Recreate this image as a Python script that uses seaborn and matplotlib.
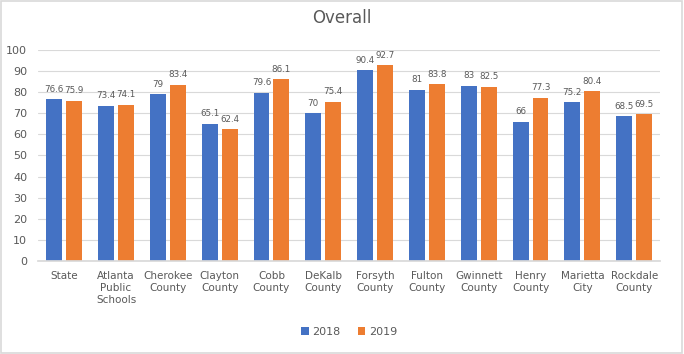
import matplotlib
matplotlib.use("Agg")
import matplotlib.pyplot as plt
import seaborn as sns
import pandas as pd
from matplotlib.patches import Rectangle

categories = ["State", "Atlanta\nPublic\nSchools", "Cherokee\nCounty", "Clayton\nCounty",
              "Cobb\nCounty", "DeKalb\nCounty", "Forsyth\nCounty", "Fulton\nCounty",
              "Gwinnett\nCounty", "Henry\nCounty", "Marietta\nCity", "Rockdale\nCounty"]
values_2018 = [76.6, 73.4, 79, 65.1, 79.6, 70, 90.4, 81, 83, 66, 75.2, 68.5]
values_2019 = [75.9, 74.1, 83.4, 62.4, 86.1, 75.4, 92.7, 83.8, 82.5, 77.3, 80.4, 69.5]
labels_2018 = ["76.6", "73.4", "79", "65.1", "79.6", "70", "90.4", "81", "83", "66", "75.2", "68.5"]
labels_2019 = ["75.9", "74.1", "83.4", "62.4", "86.1", "75.4", "92.7", "83.8", "82.5", "77.3", "80.4", "69.5"]
years = ["2018", "2019"]
yticks = [0, 10, 20, 30, 40, 50, 60, 70, 80, 90, 100]

df = pd.DataFrame({
    "cat": categories * 2,
    "val": values_2018 + values_2019,
    "year": [years[0]] * len(categories) + [years[1]] * len(categories),
})

sns.set_theme(style="white")
plt.rcParams["font.family"] = ["DejaVu Sans"]
txt = "#595959"

fig = plt.figure(figsize=(6.84, 3.54), dpi=100)
ax = fig.add_axes([0.056, 0.263, 0.909, 0.596])
sns.barplot(data=df, x="cat", y="val", hue="year", order=categories, hue_order=years,
            palette=["#4472C4", "#ED7D31"], width=0.77, gap=0.2, ax=ax, legend=True,
            saturation=1, linewidth=0)

for cont, labs in zip(ax.containers, [labels_2018, labels_2019]):
    ax.bar_label(cont, labels=labs, padding=4, fontsize=6.3, color=txt)

ax.set_ylim(0, 100)
ax.set_yticks(yticks)
ax.set_xlim(-0.5, len(categories) - 0.5)
ax.grid(axis="y", color="#D9D9D9", linewidth=0.8)
ax.set_axisbelow(True)
for s in ["top", "right", "left"]:
    ax.spines[s].set_visible(False)
ax.spines["bottom"].set_color("#D9D9D9")
ax.tick_params(axis="y", labelsize=8, colors=txt, length=0, pad=8)
ax.tick_params(axis="x", labelsize=7.5, colors=txt, length=0, pad=7)
for t in ax.get_xticklabels():
    t.set_linespacing(1.25)
ax.set_xlabel("")
ax.set_ylabel("")

leg = ax.legend(loc="center", bbox_to_anchor=(0.5, -0.335), ncol=2, frameon=False,
                fontsize=8, handlelength=0.7, handleheight=0.7, handletextpad=0.3,
                columnspacing=1.5, labelcolor=txt)

fig.text(0.5, 0.948, "Overall", ha="center", va="center", fontsize=12, color=txt)
fig.patches.append(Rectangle((0.002, 0.003), 0.995, 0.993, transform=fig.transFigure,
                             fill=False, edgecolor="#D9D9D9", linewidth=1.2))

fig.savefig("out.png", dpi=100)
